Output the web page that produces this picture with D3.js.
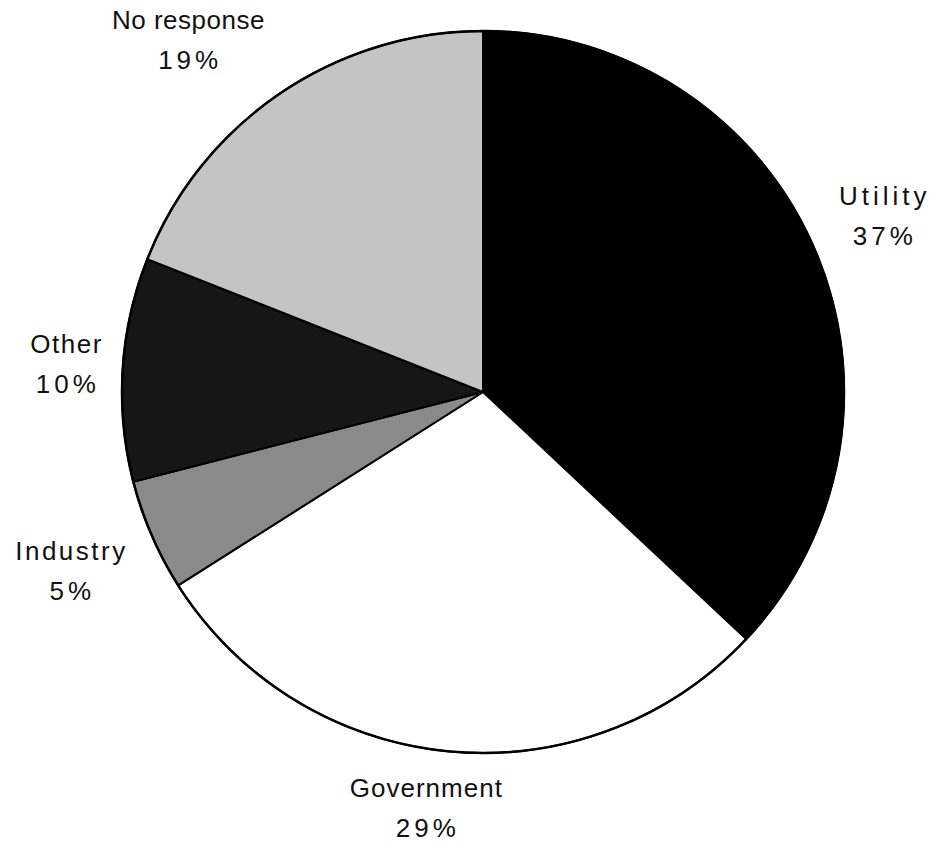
<!DOCTYPE html>
<html>
<head>
<meta charset="utf-8">
<script src="https://cdn.jsdelivr.net/npm/d3@7"></script>
<style>
  html, body { margin: 0; padding: 0; background: #fff; }
  svg { display: block; }
  text { font-family: "Liberation Sans", Arial, Helvetica, sans-serif; fill: #111; }
</style>
</head>
<body>
<svg id="chart" width="936" height="848"></svg>
<script>
// ---- data ----
const categories = ["Utility", "Government", "Industry", "Other", "No response"];
const shares = [37, 29, 5, 10, 19];
const valueLabels = ["37%", "29%", "5%", "10%", "19%"];

// ---- styles / layout ----
const fills = ["#000000", "#ffffff", "#8a8a8a", "#161616", "#c4c4c4"];
const nameSpacing = [4, 1, 2.5, 1.5, 0.5];
const labelNudge = [[18, -11], [-18, 2], [-31, 14], [-2, -2], [-61, -8]];

const W = 936, H = 848;
const cx = 483, cy = 392, r = 361;

const svg = d3.select("#chart");
const g = svg.append("g").attr("transform", `translate(${cx},${cy})`);

const pie = d3.pie().sort(null).value(d => d.v);
const data = categories.map((c, i) => ({ name: c, v: shares[i], label: valueLabels[i], i }));
const arcs = pie(data);

const arc = d3.arc().innerRadius(0).outerRadius(r);

g.selectAll("path.slice")
  .data(arcs)
  .enter().append("path")
  .attr("class", "slice")
  .attr("d", arc)
  .attr("fill", d => fills[d.data.i])
  .attr("stroke", "#000")
  .attr("stroke-width", 2)
  .attr("stroke-linejoin", "round");

g.append("circle").attr("r", r).attr("fill", "none").attr("stroke", "#000").attr("stroke-width", 2.5);

const labelArc = d3.arc().innerRadius(r + 55).outerRadius(r + 55);

const lg = g.selectAll("g.lab").data(arcs).enter().append("g")
  .attr("class", "lab")
  .attr("transform", d => {
    const [x, y] = labelArc.centroid(d);
    const n = labelNudge[d.data.i];
    return `translate(${x + n[0]},${y + n[1]})`;
  });

lg.append("text")
  .attr("text-anchor", "middle")
  .attr("y", -11)
  .attr("dx", d => nameSpacing[d.data.i] / 2)
  .style("font-size", "26px")
  .style("letter-spacing", d => nameSpacing[d.data.i] + "px")
  .text(d => d.data.name);

lg.append("text")
  .attr("text-anchor", "middle")
  .attr("y", 29)
  .style("font-size", "26px")
  .style("letter-spacing", "4px")
  .attr("dx", 2)
  .text(d => d.data.label);
</script>
</body>
</html>
